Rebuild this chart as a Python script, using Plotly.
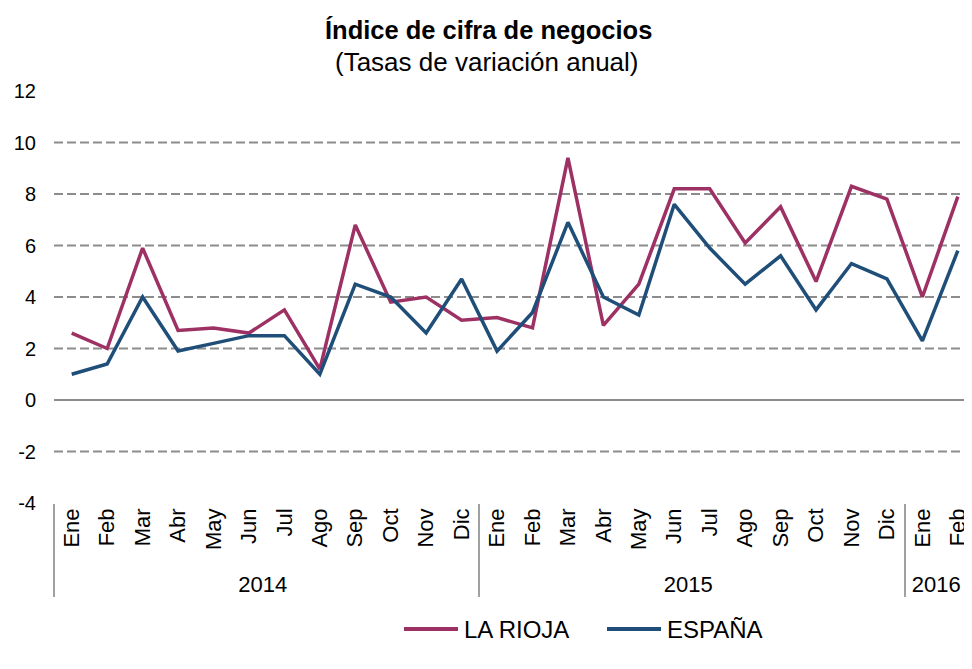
import plotly.graph_objects as go

years = ["2014"] * 12 + ["2015"] * 12 + ["2016"] * 2
months = ["Ene", "Feb", "Mar", "Abr", "May", "Jun", "Jul", "Ago", "Sep", "Oct", "Nov", "Dic",
          "Ene", "Feb", "Mar", "Abr", "May", "Jun", "Jul", "Ago", "Sep", "Oct", "Nov", "Dic",
          "Ene", "Feb"]
la_rioja = [2.6, 2.0, 5.9, 2.7, 2.8, 2.6, 3.5, 1.2, 6.8, 3.8, 4.0, 3.1,
            3.2, 2.8, 9.4, 2.9, 4.5, 8.2, 8.2, 6.1, 7.5, 4.6, 8.3, 7.8,
            4.0, 7.9]
espana = [1.0, 1.4, 4.0, 1.9, 2.2, 2.5, 2.5, 1.0, 4.5, 4.0, 2.6, 4.7,
          1.9, 3.4, 6.9, 4.0, 3.3, 7.6, 5.9, 4.5, 5.6, 3.5, 5.3, 4.7,
          2.3, 5.8]
series_names = ["LA RIOJA", "ESPAÑA"]
y_ticks = [-4, -2, 0, 2, 4, 6, 8, 10, 12]
grid_values = [-2, 2, 4, 6, 8, 10]

RED = "#9E3163"
BLUE = "#1F4E79"
FONT = "Liberation Sans, Arial, Helvetica, sans-serif"

# The page body has an 8px margin, so the figure is sized to fill the rest.
W, H = 964, 661
L, T, B = 46, 83, 166
plot_w = W - L
plot_h = H - T - B


def px_x(ref_px):  # reference pixel -> paper x
    return (ref_px - 8 - L) / plot_w


def px_y(ref_px):  # reference pixel -> paper y
    return (H - B - (ref_px - 8)) / plot_h


fig = go.Figure()
fig.add_trace(go.Scatter(x=[years, months], y=la_rioja, mode="lines", name=series_names[0],
                         line=dict(color=RED, width=3.5), showlegend=False))
fig.add_trace(go.Scatter(x=[years, months], y=espana, mode="lines", name=series_names[1],
                         line=dict(color=BLUE, width=3.5), showlegend=False))

for g in grid_values:
    fig.add_shape(type="line", xref="paper", x0=0, x1=1, yref="y", y0=g, y1=g,
                  line=dict(color="#8C8C8C", width=2, dash="9px,4px"), layer="below")

# custom legend (long line samples like the reference)
legend_items = [(series_names[0], RED, 404, 458, 462), (series_names[1], BLUE, 607, 661, 665)]
for name, col, x0, x1, xt in legend_items:
    fig.add_shape(type="line", xref="paper", yref="paper", x0=px_x(x0), x1=px_x(x1),
                  y0=px_y(629), y1=px_y(629), line=dict(color=col, width=4))
    fig.add_annotation(text=name, xref="paper", yref="paper", x=px_x(xt), y=px_y(629),
                       xanchor="left", yanchor="middle", showarrow=False,
                       font=dict(size=24, family=FONT, color="#000000"))

fig.add_annotation(text="<b>Índice de cifra de negocios</b>", xref="paper", yref="paper",
                   x=px_x(488), y=px_y(30), showarrow=False,
                   font=dict(size=25.5, family=FONT, color="#000000"),
                   xanchor="center", yanchor="middle")
fig.add_annotation(text="(Tasas de variación anual)", xref="paper", yref="paper",
                   x=px_x(487), y=px_y(62), showarrow=False,
                   font=dict(size=26, family=FONT, color="#000000"),
                   xanchor="center", yanchor="middle")

fig.update_layout(
    width=W, height=H,
    margin=dict(l=L, r=0, t=T, b=B, autoexpand=False),
    paper_bgcolor="white", plot_bgcolor="white",
    font=dict(family=FONT, color="#000000", size=20),
    showlegend=False,
)

fig.update_yaxes(range=[-4, 12], tickvals=y_ticks, ticktext=[str(v) for v in y_ticks],
                 showgrid=False, zeroline=True,
                 zerolinecolor="#8C8C8C", zerolinewidth=1.5, showline=False,
                 ticks="", ticklabelstandoff=17, tickfont=dict(size=20), automargin=False)
fig.update_xaxes(type="multicategory", range=[-0.5, 25.4], showgrid=False, showline=False,
                 ticks="", tickangle=-90, tickfont=dict(size=22), automargin=False,
                 showdividers=True, dividercolor="#A0A0A0", dividerwidth=1.5)

fig.write_html("out.html")
